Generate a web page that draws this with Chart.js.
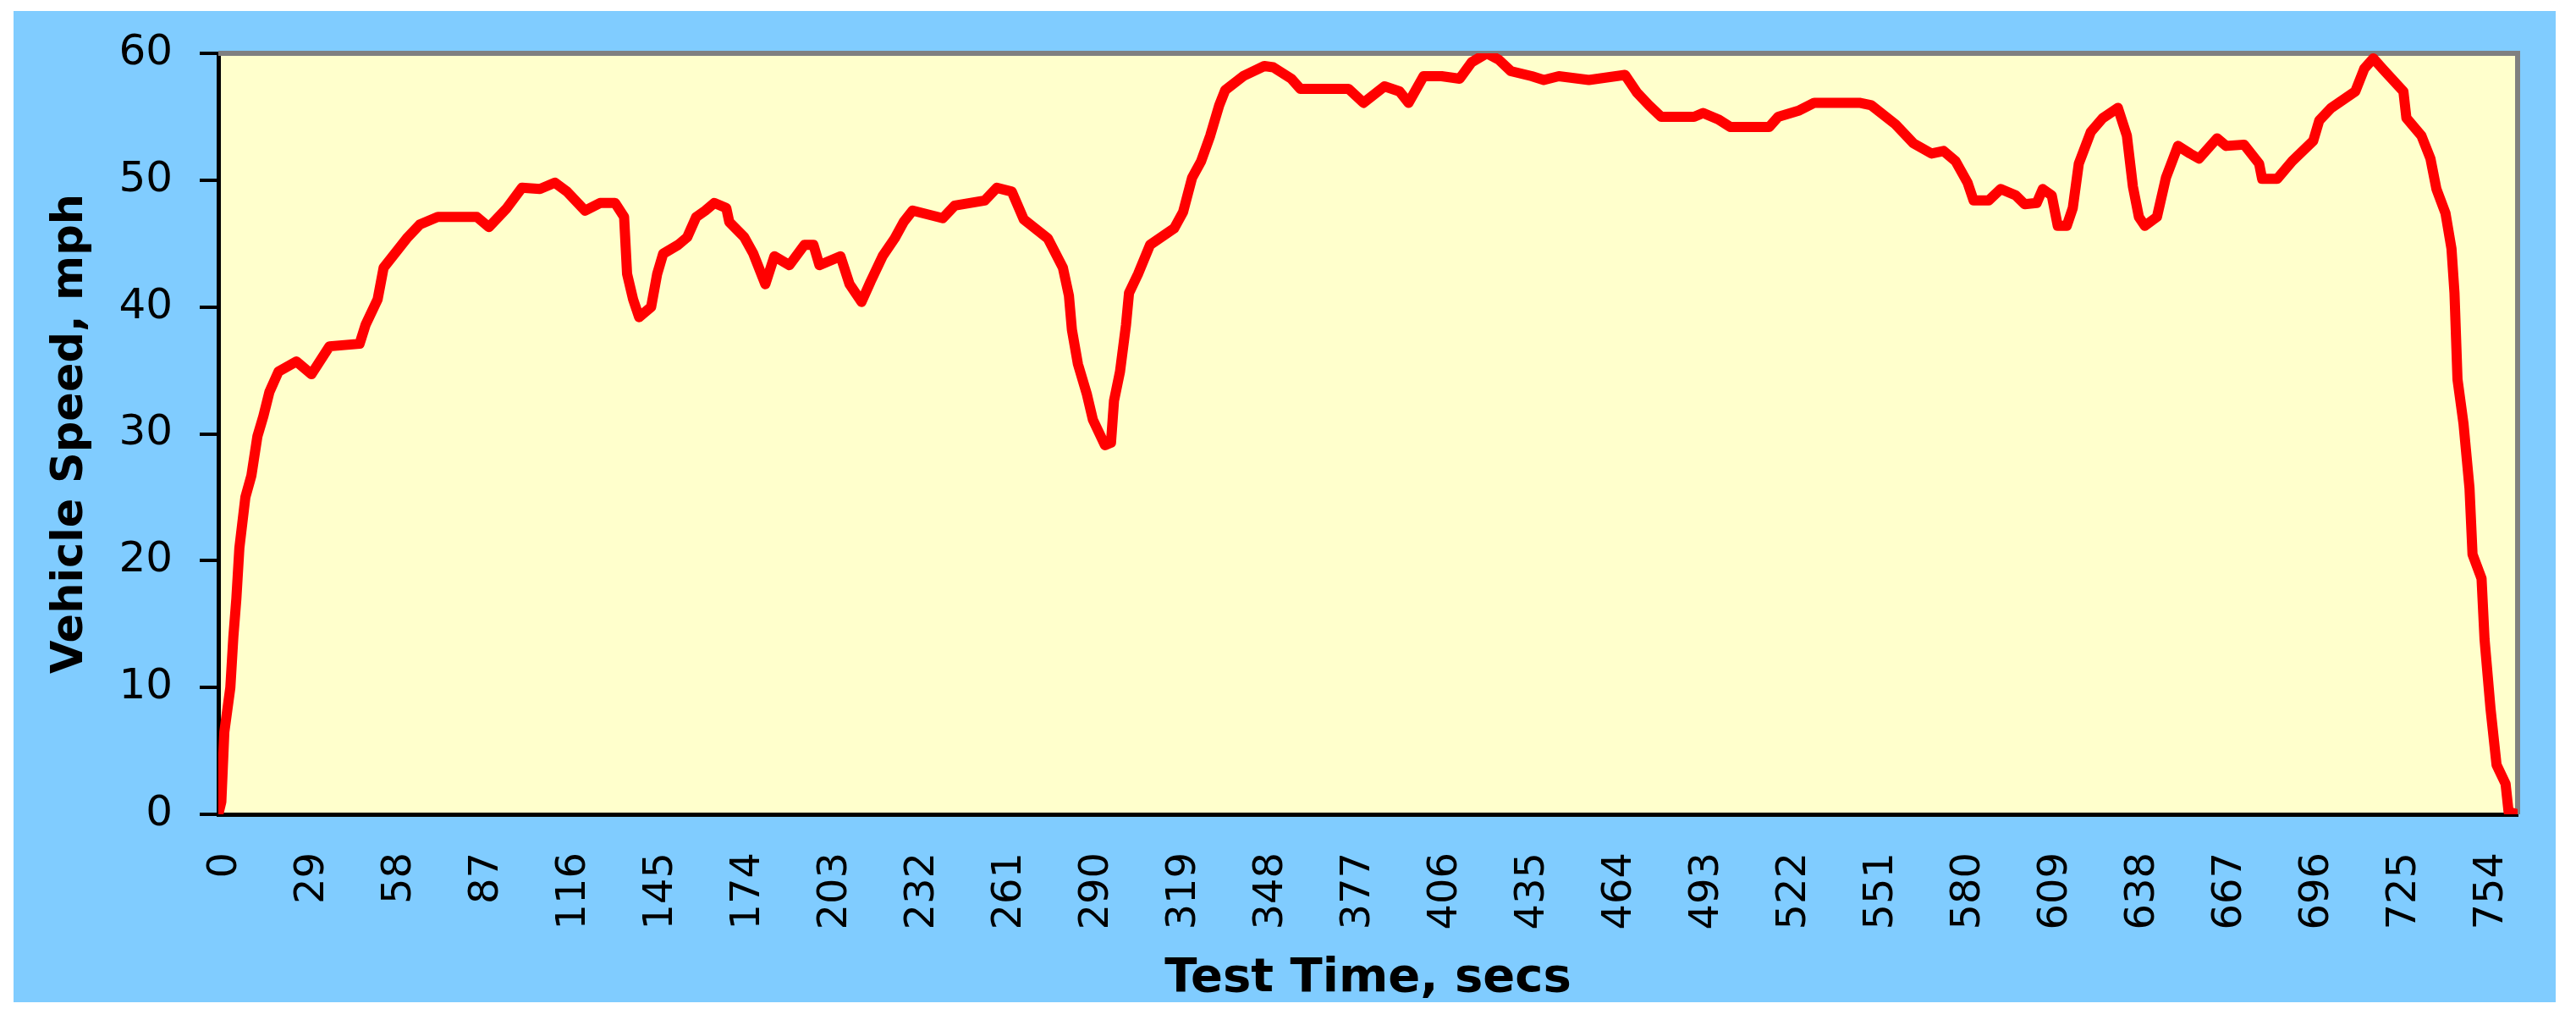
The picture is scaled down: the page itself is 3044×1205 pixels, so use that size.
<!DOCTYPE html>
<html>
<head>
<meta charset="utf-8">
<title>Vehicle Speed</title>
<script src="https://cdn.jsdelivr.net/npm/chart.js@4/dist/chart.umd.min.js"></script>
<style>
  body { margin: 0; background: #ffffff; }
  #panel { position: absolute; left: 16px; top: 13px; width: 3004px; height: 1171px; background: #80ccff; }
  #speedChart { display: block; }
</style>
</head>
<body>
<div id="panel"><canvas id="speedChart" width="3004" height="1171"></canvas></div>
<script>
// test time (s) and vehicle speed (mph)
var timeSecs = [0, 1, 2, 4, 5, 6, 7, 9, 11, 13, 15, 17, 20, 26, 31, 37, 47, 49, 53, 55,
  63, 67, 73, 86, 90, 96, 101, 107, 112, 116, 122, 127, 132, 135, 136, 138, 140, 144, 146, 148,
  153, 156, 159, 162, 165, 169, 170, 175, 178, 182, 185, 190, 195, 198, 200, 207, 210, 214, 217, 221,
  225, 228, 231, 241, 245, 255, 259, 264, 268, 276, 281, 283, 284, 286, 289, 291, 295, 297, 298, 300,
  302, 303, 306, 310, 318, 321, 324, 327, 330, 333, 335, 341, 348, 351, 357, 360, 376, 381, 388, 393,
  396, 401, 407, 413, 417, 422, 426, 430, 437, 441, 446, 456, 468, 472, 476, 480, 491, 494, 499, 503,
  516, 519, 526, 531, 546, 550, 558, 564, 570, 574, 578, 582, 584, 589, 593, 598, 601, 605, 607, 610,
  612, 615, 617, 619, 623, 627, 632, 635, 637, 639, 641, 645, 648, 652, 656, 659, 665, 668, 674, 679,
  680, 685, 690, 697, 699, 703, 711, 714, 717, 720, 727, 728, 733, 736, 738, 741, 743, 744, 745, 747,
  749, 750, 753, 754, 756, 758, 761, 762, 765];

var speedMph = [0, 1, 6.5, 10, 14, 17, 21, 25, 26.7, 29.8, 31.4, 33.3, 34.9, 35.7, 34.7, 36.9, 37.1, 38.6, 40.6, 43.1,
  45.5, 46.5, 47.1, 47.1, 46.3, 47.8, 49.4, 49.3, 49.8, 49.1, 47.6, 48.2, 48.2, 47.1, 42.6, 40.6, 39.2, 40.0, 42.6, 44.2,
  44.9, 45.5, 47.1, 47.6, 48.2, 47.8, 46.7, 45.5, 44.2, 41.8, 44.0, 43.3, 44.9, 44.9, 43.3, 44.0, 41.8, 40.4, 42.0, 44.0,
  45.4, 46.7, 47.6, 47.0, 48.0, 48.4, 49.4, 49.1, 46.9, 45.4, 43.1, 40.9, 38.2, 35.5, 33.1, 31.1, 29.1, 29.3, 32.6, 34.9,
  38.6, 41.1, 42.6, 44.9, 46.2, 47.5, 50.2, 51.5, 53.5, 55.9, 57.1, 58.2, 59.0, 58.9, 58.0, 57.2, 57.2, 56.1, 57.4, 57.0,
  56.1, 58.2, 58.2, 58.0, 59.3, 60.0, 59.5, 58.6, 58.2, 57.9, 58.2, 57.9, 58.3, 56.9, 55.9, 55.0, 55.0, 55.3, 54.8, 54.2,
  54.2, 55.0, 55.5, 56.1, 56.1, 55.9, 54.4, 52.9, 52.1, 52.3, 51.5, 49.8, 48.4, 48.4, 49.3, 48.8, 48.1, 48.2, 49.3, 48.8,
  46.4, 46.4, 47.8, 51.3, 53.8, 54.9, 55.7, 53.5, 49.5, 47.1, 46.4, 47.1, 50.2, 52.7, 52.1, 51.7, 53.3, 52.7, 52.8, 51.3,
  50.1, 50.1, 51.5, 53.1, 54.7, 55.7, 57.0, 58.8, 59.6, 58.8, 57.0, 54.9, 53.5, 51.7, 49.3, 47.4, 44.6, 41.1, 34.3, 30.8,
  25.7, 20.5, 18.6, 13.8, 8.3, 3.9, 2.4, 0.2, 0];

var timeTicks = [0, 29, 58, 87, 116, 145, 174, 203, 232, 261, 290, 319, 348, 377, 406, 435, 464, 493,
  522, 551, 580, 609, 638, 667, 696, 725, 754];
var speedTicks = [0, 10, 20, 30, 40, 50, 60];

var points = timeSecs.map(function (t, i) { return { x: t, y: speedMph[i] }; });

// yellow plot face with a grey frame on top and right, like the old Excel chart
var plotFace = {
  id: 'plotFace',
  beforeDraw: function (chart) {
    var a = chart.chartArea, ctx = chart.ctx;
    ctx.save();
    ctx.fillStyle = '#ffffcc';
    ctx.fillRect(a.left, a.top, a.right - a.left, a.bottom - a.top);
    ctx.restore();
  },
  beforeDatasetsDraw: function (chart) {
    var a = chart.chartArea, ctx = chart.ctx;
    ctx.save();
    ctx.strokeStyle = '#808080';
    ctx.lineWidth = 6;
    ctx.beginPath();
    ctx.moveTo(a.left, a.top);
    ctx.lineTo(a.right, a.top);
    ctx.lineTo(a.right, a.bottom);
    ctx.stroke();
    ctx.restore();
  }
};

new Chart(document.getElementById('speedChart'), {
  type: 'line',
  data: {
    datasets: [{
      data: points,
      borderColor: '#ff0000',
      borderWidth: 12,
      borderJoinStyle: 'round',
      pointRadius: 0,
      tension: 0,
      fill: false
    }]
  },
  options: {
    responsive: false,
    animation: false,
    events: [],
    layout: { padding: { top: 50, right: 45, left: 0, bottom: 0 } },
    plugins: { legend: { display: false }, tooltip: { enabled: false } },
    scales: {
      x: {
        type: 'linear',
        min: 0,
        max: 765,
        afterBuildTicks: function (scale) {
          scale.ticks = timeTicks.map(function (v) { return { value: v }; });
        },
        afterFit: function (scale) {
          scale.height = 222;
          scale.paddingLeft = 0;
          scale.paddingRight = 0;
        },
        grid: { display: false, drawTicks: false },
        border: { display: true, color: '#000000', width: 5 },
        ticks: {
          autoSkip: false,
          maxRotation: 90,
          minRotation: 90,
          padding: 45,
          labelOffset: 9,
          color: '#000000',
          font: { family: 'DejaVu Sans', size: 48 }
        },
        title: {
          display: true,
          text: 'Test Time, secs',
          color: '#000000',
          font: { family: 'DejaVu Sans', size: 56, weight: 'bold', lineHeight: 1 },
          padding: { top: 0, bottom: 0 }
        }
      },
      y: {
        min: 0,
        max: 60,
        afterBuildTicks: function (scale) {
          scale.ticks = speedTicks.map(function (v) { return { value: v }; });
        },
        afterFit: function (scale) {
          scale.width = 242;
          scale.paddingTop = 0;
          scale.paddingBottom = 0;
        },
        grid: { drawOnChartArea: false, drawTicks: true, tickLength: 22, color: '#000000', lineWidth: 4 },
        border: { display: true, color: '#000000', width: 5 },
        ticks: {
          padding: 32,
          color: '#000000',
          font: { family: 'DejaVu Sans', size: 50 }
        },
        title: {
          display: true,
          text: 'Vehicle Speed, mph',
          color: '#000000',
          font: { family: 'DejaVu Sans', size: 51, weight: 'bold' },
          padding: { top: 37, bottom: 0 }
        }
      }
    }
  },
  plugins: [plotFace]
});
</script>
</body>
</html>
